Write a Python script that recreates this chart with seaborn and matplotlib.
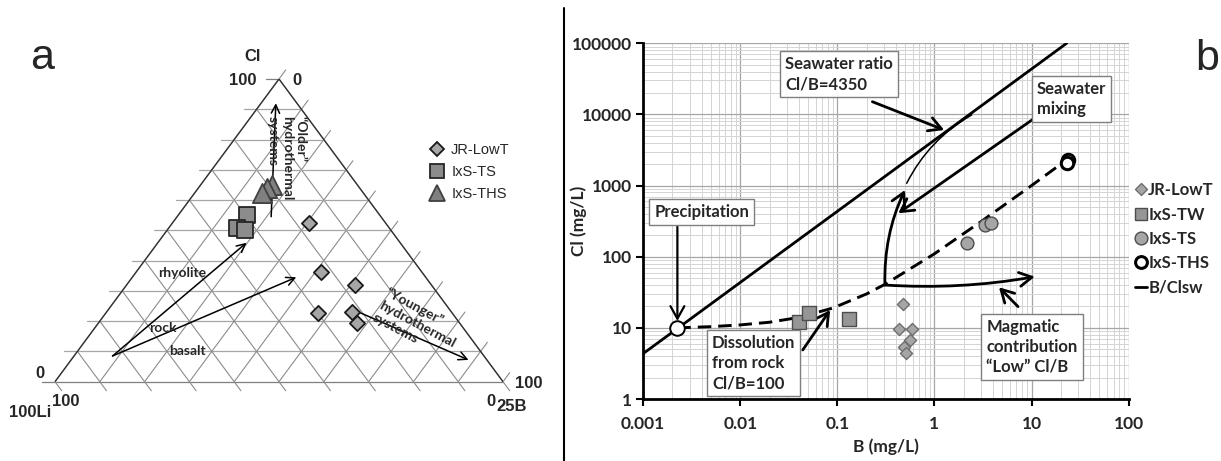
import matplotlib
matplotlib.use("Agg")
import matplotlib.pyplot as plt
import numpy as np
import pandas as pd
import seaborn as sns
from matplotlib.lines import Line2D
from matplotlib.ticker import LogLocator, NullFormatter

sns.set_theme(style="white")
plt.rcParams["font.family"] = ["Lato", "DejaVu Sans"]

# ---------------- (a) Cl - Li - 25B ternary, percent ----------------
jr_cl = [52.4, 36.2, 31.9, 22.7, 23.0, 19.4]
jr_li = [17.1, 22.5, 17.1, 29.9, 22.2, 22.9]
jr_b25 = [30.5, 41.3, 51.0, 47.4, 54.8, 57.7]

ts_cl = [55.1, 50.7, 50.1]
ts_li = [29.7, 34.1, 32.5]
ts_b25 = [15.2, 15.2, 17.4]

ths_cl = [65.0, 63.9, 62.4]
ths_li = [19.1, 20.7, 22.6]
ths_b25 = [15.9, 15.4, 15.0]

ternary_ticks = list(range(0, 101, 10))

# ---------------- (b) Cl versus B, mg/L ----------------
lowt_b = [0.478, 0.435, 0.582, 0.560, 0.489, 0.505]
lowt_cl = [21.7, 9.6, 9.5, 6.8, 5.4, 4.4]
tw_b = [0.040, 0.051, 0.132]
tw_cl = [12.2, 16.0, 13.2]
tsb_b = [2.18, 3.31, 3.79]
tsb_cl = [157, 279, 301]
thsb_b = [23.6, 23.2]
thsb_cl = [2290, 2050]
precip_b = [0.00225]
precip_cl = [10.0]
seawater_b = [0.001, 23.0]
seawater_cl = [4.35, 100050]
rock_b = [0.00225, 0.005, 0.01, 0.02, 0.04, 0.09, 0.2, 0.31, 1.0, 3.0, 10.0, 22.0]
rock_cl = [10.0, 10.4, 11.0, 12.0, 14.0, 19.0, 30.0, 41.0, 110.0, 310.0, 1000.0, 2200.0]

x_ticks = [0.001, 0.01, 0.1, 1, 10, 100]
x_ticklabels = ["0.001", "0.01", "0.1", "1", "10", "100"]
y_ticks = [1, 10, 100, 1000, 10000, 100000]
y_ticklabels = ["1", "10", "100", "1000", "10000", "100000"]

W, H = 1221, 461
fig = plt.figure(figsize=(W / 100, H / 100), dpi=100)


def px_rect(x0, y0, x1, y1):
    return [x0 / W, 1 - y1 / H, (x1 - x0) / W, (y1 - y0) / H]


def tern_xy(cl, li, b):
    cl, li, b = map(np.asarray, (cl, li, b))
    s = cl + li + b
    c = cl / s
    bb = b / s
    return bb + c / 2, c


ARIAL = ["Liberation Sans", "DejaVu Sans"]

# ======================= panel a: ternary =======================
axa = fig.add_axes(px_rect(55, 79, 503, 381.7))
axa.set_xlim(0, 1)
axa.set_ylim(0, 1)
axa.axis("off")

grid_kw = dict(color="#8c8c8c", lw=0.8, clip_on=False, zorder=1)
ext = 0.03
for v in ternary_ticks:
    f = v / 100
    # constant Cl (horizontal), tick sticks out to the left
    axa.plot([f / 2 - 0.029, 1 - f / 2], [f, f],
             color="#a6a6a6" if 0 < f < 1 else "#7f7f7f", lw=0.9,
             clip_on=False, zorder=1)
    # constant B (parallel to left edge), tick beyond the right edge
    x0, y0 = f, 0
    x1, y1 = f + (1 - f) / 2, 1 - f
    axa.plot([x0, x1 + 0.5 * ext], [y0, y1 + ext], **grid_kw)
    # constant Li (parallel to right edge), tick below the base
    x0, y0 = (1 - f) / 2, 1 - f
    x1, y1 = 1 - f, 0
    axa.plot([x0, x1 + 0.5 * ext], [y0, y1 - ext], **grid_kw)

# triangle outline
axa.plot([0, 0.5, 1], [0, 1, 0], color="#333333", lw=1.0, zorder=2)

arrow_a = dict(arrowstyle="->,head_length=0.6,head_width=0.3",
               color="black", lw=1.1, shrinkA=0, shrinkB=0, mutation_scale=10)


def tern_arrow(tail, head):
    hx, hy = tern_xy(*head)
    tx, ty = tern_xy(*tail)
    axa.annotate("", xy=(hx, hy), xytext=(tx, ty), arrowprops=arrow_a, zorder=3)


# (Cl, Li, B) of arrow tails and heads
tern_arrow((54.5, 24.5, 21.0), (92.0, 4.7, 3.3))
tern_arrow((8.5, 82.9, 8.6), (45.9, 34.3, 19.8))
tern_arrow((8.5, 82.9, 8.6), (34.5, 28.9, 36.6))
tern_arrow((24.3, 22.1, 53.6), (7.2, 4.1, 88.7))

series_a = [
    (jr_cl, jr_li, jr_b25, "D", 60, "#a6a6a6", "#1a1a1a"),
    (ts_cl, ts_li, ts_b25, "s", 125, "#8c8c8c", "#262626"),
    (ths_cl, ths_li, ths_b25, "^", 190, "#808080", "#404040"),
]
for cl, li, b, mk, size, fc, ec in series_a:
    xx, yy = tern_xy(cl, li, b)
    df = pd.DataFrame({"x": xx, "y": yy})
    sns.scatterplot(data=df, x="x", y="y", marker=mk, s=size, color=fc,
                    edgecolor=ec, linewidth=1.3, ax=axa, zorder=5,
                    clip_on=False, legend=False)
axa.set_xlabel("")
axa.set_ylabel("")

handles_a = [
    Line2D([], [], ls="", marker="D", markersize=7, markerfacecolor="#a6a6a6",
           markeredgecolor="#1a1a1a", markeredgewidth=1.3),
    Line2D([], [], ls="", marker="s", markersize=9.5, markerfacecolor="#8c8c8c",
           markeredgecolor="#262626", markeredgewidth=1.3),
    Line2D([], [], ls="", marker="^", markersize=12, markerfacecolor="#808080",
           markeredgecolor="#404040", markeredgewidth=1.3),
]
fig.legend(handles_a, ["JR-LowT", "IxS-TS", "IxS-THS"], loc="upper left",
           bbox_to_anchor=(422 / W, 1 - 136 / H), frameon=False, borderpad=0,
           handlelength=1.0, handletextpad=0.5, labelspacing=0.55,
           prop=dict(family=ARIAL, size=10.5))

# ======================= panel b: Cl vs B =======================
axb = fig.add_axes(px_rect(643.2, 43.3, 1128.6, 399))
axb.set_xscale("log")
axb.set_yscale("log")

sns.lineplot(x=seawater_b, y=seawater_cl, ax=axb, color="black", lw=2,
             sort=False, zorder=3)
sns.lineplot(x=rock_b, y=rock_cl, ax=axb, color="black", lw=2.1, sort=False,
             linestyle=(0, (4.6, 2.4)), zorder=3)

arrow_b = dict(arrowstyle="->,head_length=0.45,head_width=0.25",
               color="black", lw=2, shrinkA=0, shrinkB=0, mutation_scale=20)


def b_arrow(tail, head, rad=0.0, lw=2, head_on=True):
    props = dict(arrow_b)
    props["lw"] = lw
    props["connectionstyle"] = f"arc3,rad={rad}"
    if not head_on:
        props["arrowstyle"] = "-"
    axb.annotate("", xy=head, xytext=tail, arrowprops=props, zorder=4)


b_arrow((0.00225, 264), (0.00225, 12.5), lw=1.6)
b_arrow((0.2296, 15100), (1.259, 6050))
b_arrow((10.8, 8900), (0.424, 408))
b_arrow((0.044, 4.89), (0.0843, 17.8))
b_arrow((7.26, 19.9), (4.62, 37.2))
b_arrow((0.309, 40), (10.8, 52.4), rad=0.06)
b_arrow((0.309, 40), (0.497, 867), rad=-0.12)
b_arrow((0.518, 1078), (2.42, 9840), rad=-0.15, lw=1.1, head_on=False)

sns.scatterplot(x=lowt_b, y=lowt_cl, ax=axb, marker="D", s=38, color="#a6a6a6",
                edgecolor="#6e6e6e", linewidth=1.0, zorder=5, legend=False)
sns.scatterplot(x=tw_b, y=tw_cl, ax=axb, marker="s", s=90, color="#969696",
                edgecolor="#4d4d4d", linewidth=1.0, zorder=5, legend=False)
sns.scatterplot(x=tsb_b, y=tsb_cl, ax=axb, marker="o", s=85, color="#a6a6a6",
                edgecolor="#4d4d4d", linewidth=1.0, zorder=5, legend=False)
sns.scatterplot(x=thsb_b, y=thsb_cl, ax=axb, marker="o", s=80, color="white",
                edgecolor="black", linewidth=2.2, zorder=5, legend=False)
sns.scatterplot(x=precip_b, y=precip_cl, ax=axb, marker="o", s=110, color="white",
                edgecolor="black", linewidth=1.4, zorder=6, legend=False)

axb.set_xlim(0.001, 100)
axb.set_ylim(1, 100000)
axb.set_xticks(x_ticks)
axb.set_xticklabels(x_ticklabels)
axb.set_yticks(y_ticks)
axb.set_yticklabels(y_ticklabels)
axb.xaxis.set_minor_locator(LogLocator(base=10, subs=np.arange(2, 10), numticks=20))
axb.yaxis.set_minor_locator(LogLocator(base=10, subs=np.arange(2, 10), numticks=20))
axb.xaxis.set_minor_formatter(NullFormatter())
axb.yaxis.set_minor_formatter(NullFormatter())
axb.grid(which="major", color="#a6a6a6", lw=0.9, zorder=0)
axb.grid(which="minor", color="#d4d4d4", lw=0.7, zorder=0)
axb.set_axisbelow(True)
axb.tick_params(which="major", direction="out", length=5, width=1.5,
                labelsize=12.5, pad=3, color="black", bottom=True, left=True)
axb.tick_params(axis="x", which="major", pad=7)
axb.tick_params(which="minor", length=0)
for lbl in axb.get_xticklabels() + axb.get_yticklabels():
    lbl.set_fontweight("bold")
for side in ("top", "right"):
    axb.spines[side].set_visible(False)
for side in ("left", "bottom"):
    axb.spines[side].set_color("black")
    axb.spines[side].set_linewidth(2)

axb.set_xlabel("B (mg/L)", fontsize=12.5, fontweight="bold")
axb.set_ylabel("Cl (mg/L)", fontsize=12.5, fontweight="bold")
axb.xaxis.set_label_coords(0.5, -0.134)
axb.xaxis.label.set_va("center")
axb.yaxis.set_label_coords(-0.132, 0.5)
axb.yaxis.label.set_va("center")

box_kw = dict(boxstyle="square,pad=0.3", fc="white", ec="#7f7f7f", lw=1)
txt_kw = dict(fontsize=12, fontweight="bold", zorder=7, linespacing=1.3)
axb.text(0.0289, 36900, "Seawater ratio\nCl/B=4350", ha="left", va="center",
         bbox=box_kw, **txt_kw)
axb.text(11.4, 16400, "Seawater\nmixing", ha="left", va="center",
         bbox=box_kw, **txt_kw)
axb.text(0.00402, 421, "Precipitation", ha="center", va="center",
         bbox=box_kw, **txt_kw)
axb.text(0.00512, 3.17, "Dissolution\nfrom rock\nCl/B=100", ha="left",
         va="center", bbox=box_kw, **txt_kw)
axb.text(3.43, 5.44, "Magmatic\ncontribution\n\u201cLow\u201d Cl/B", ha="left",
         va="center", bbox=box_kw, **txt_kw)

handles_b = [
    Line2D([], [], ls="", marker="D", markersize=6.4, markerfacecolor="#a6a6a6",
           markeredgecolor="#6e6e6e", markeredgewidth=1.0),
    Line2D([], [], ls="", marker="s", markersize=9.2, markerfacecolor="#969696",
           markeredgecolor="#4d4d4d", markeredgewidth=1.0),
    Line2D([], [], ls="", marker="o", markersize=9.2, markerfacecolor="#a6a6a6",
           markeredgecolor="#4d4d4d", markeredgewidth=1.0),
    Line2D([], [], ls="", marker="o", markersize=8.5, markerfacecolor="white",
           markeredgecolor="black", markeredgewidth=2.2),
    Line2D([], [], color="black", lw=2),
]
fig.legend(handles_b, ["JR-LowT", "IxS-TW", "IxS-TS", "IxS-THS", "B/Clsw"],
           loc="upper left", bbox_to_anchor=(1127 / W, 1 - 174 / H),
           frameon=False, borderpad=0, handlelength=0.72, handletextpad=0.05,
           labelspacing=0.5, prop=dict(size=12, weight="bold"))

# ======================= overlay: labels in pixel space =======================
cv = fig.add_axes([0, 0, 1, 1], zorder=10)
cv.set_xlim(0, W)
cv.set_ylim(H, 0)
cv.axis("off")
cv.patch.set_visible(False)

cv.plot([563.5, 563.5], [8, H], color="black", lw=1.5)
cv.text(42.5, 58, "a", fontsize=31, family=ARIAL, ha="center", va="center")
cv.text(1207, 59, "b", fontsize=31, family=ARIAL, ha="center", va="center")

lab = dict(family=ARIAL, fontsize=12, fontweight="bold", ha="center", va="center")
cv.text(253, 56.7, "Cl", **lab)
cv.text(242.7, 80.7, "100", **lab)
cv.text(296.7, 80.7, "0", **lab)
cv.text(40, 373.3, "0", **lab)
cv.text(30, 412.7, "100Li", **lab)
cv.text(66, 401.7, "100", **lab)
cv.text(529, 383.3, "100", **lab)
cv.text(491, 401.7, "0", **lab)
cv.text(511.5, 406, "25B", **lab)

inner = dict(fontsize=10, fontweight="bold", color="#262626")
cv.text(181.7, 272.7, "rhyolite", ha="center", va="center", **inner)
cv.text(163.3, 328.3, "rock", ha="center", va="center", **inner)
cv.text(187.7, 350.7, "basalt", ha="center", va="center", **inner)
cv.text(286.7, 116, "\u201cOlder\u201d\nhydrothermal\nsystems", rotation=-90,
        rotation_mode="anchor", ha="left", va="center", multialignment="left",
        **inner)
cv.text(380, 304, "\u201cYounger\u201d\nhydrothermal\nsystems", rotation=-28,
        rotation_mode="anchor", ha="left", va="center", multialignment="left",
        **inner)

fig.savefig("out.png", dpi=100)
